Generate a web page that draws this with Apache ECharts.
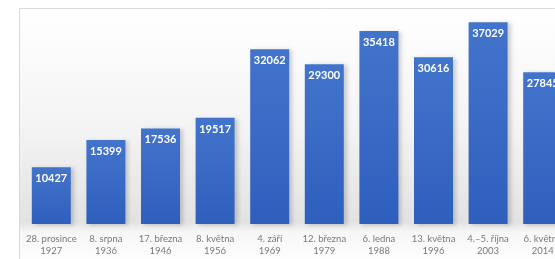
<!DOCTYPE html>
<html>
<head>
<meta charset="utf-8">
<script src="https://cdn.jsdelivr.net/npm/echarts@6/dist/echarts.min.js"></script>
<style>
  html, body { margin: 0; padding: 0; background: #fff; overflow: hidden; }
  #chart { width: 620px; height: 259px; }
</style>
</head>
<body>
<div id="chart"></div>
<script>
// volby - počet hlasů
var dates = ["28. prosince", "8. srpna", "17. března", "8. května", "4. září",
  "12. března", "6. ledna", "13. května", "4.–5. října", "6. května"];
var years = ["1927", "1936", "1946", "1956", "1969", "1979", "1988", "1996", "2003", "2014"];
var values = [10427, 15399, 17536, 19517, 32062, 29300, 35418, 30616, 37029, 27845];

var categories = dates.map(function (d, i) { return d + "\n" + years[i]; });

var chart = echarts.init(document.getElementById("chart"));
chart.setOption({
  animation: false,
  graphic: [
    {
      type: "rect",
      z: -10,
      shape: { x: 19.5, y: 8.5, width: 640, height: 260 },
      style: {
        fill: {
          type: "linear", x: 0, y: 0, x2: 0, y2: 1,
          colorStops: [
            { offset: 0, color: "#ffffff" },
            { offset: 0.45, color: "#f4f4f4" },
            { offset: 0.82, color: "#e2e2e2" },
            { offset: 0.86, color: "#f7f7f7" },
            { offset: 1, color: "#ffffff" }
          ]
        },
        stroke: "#d9d9d9",
        lineWidth: 1
      }
    }
  ],
  grid: { left: 24, right: 50, top: 6, bottom: 35 },
  xAxis: {
    type: "category",
    data: categories,
    axisLine: { show: false },
    axisTick: { show: false },
    axisLabel: {
      interval: 0,
      margin: 9,
      color: "#7a7a7a",
      fontSize: 9.5,
      lineHeight: 12,
      fontFamily: "Lato"
    }
  },
  yAxis: {
    type: "value",
    min: 0,
    max: 40000,
    show: false,
    splitLine: { show: false }
  },
  series: [
    {
      type: "bar",
      data: values,
      barWidth: 39,
      itemStyle: {
        color: {
          type: "linear", x: 0, y: 0, x2: 0, y2: 1,
          colorStops: [
            { offset: 0, color: "#4374cc" },
            { offset: 1, color: "#2f5fbd" }
          ]
        },
        shadowColor: "rgba(0,0,0,0.18)",
        shadowBlur: 4,
        shadowOffsetX: 3,
        shadowOffsetY: 1
      },
      label: {
        show: true,
        position: "insideTop",
        distance: 6,
        color: "#ffffff",
        fontWeight: "bold",
        fontSize: 11,
        fontFamily: "Lato"
      }
    }
  ]
});
</script>
</body>
</html>
